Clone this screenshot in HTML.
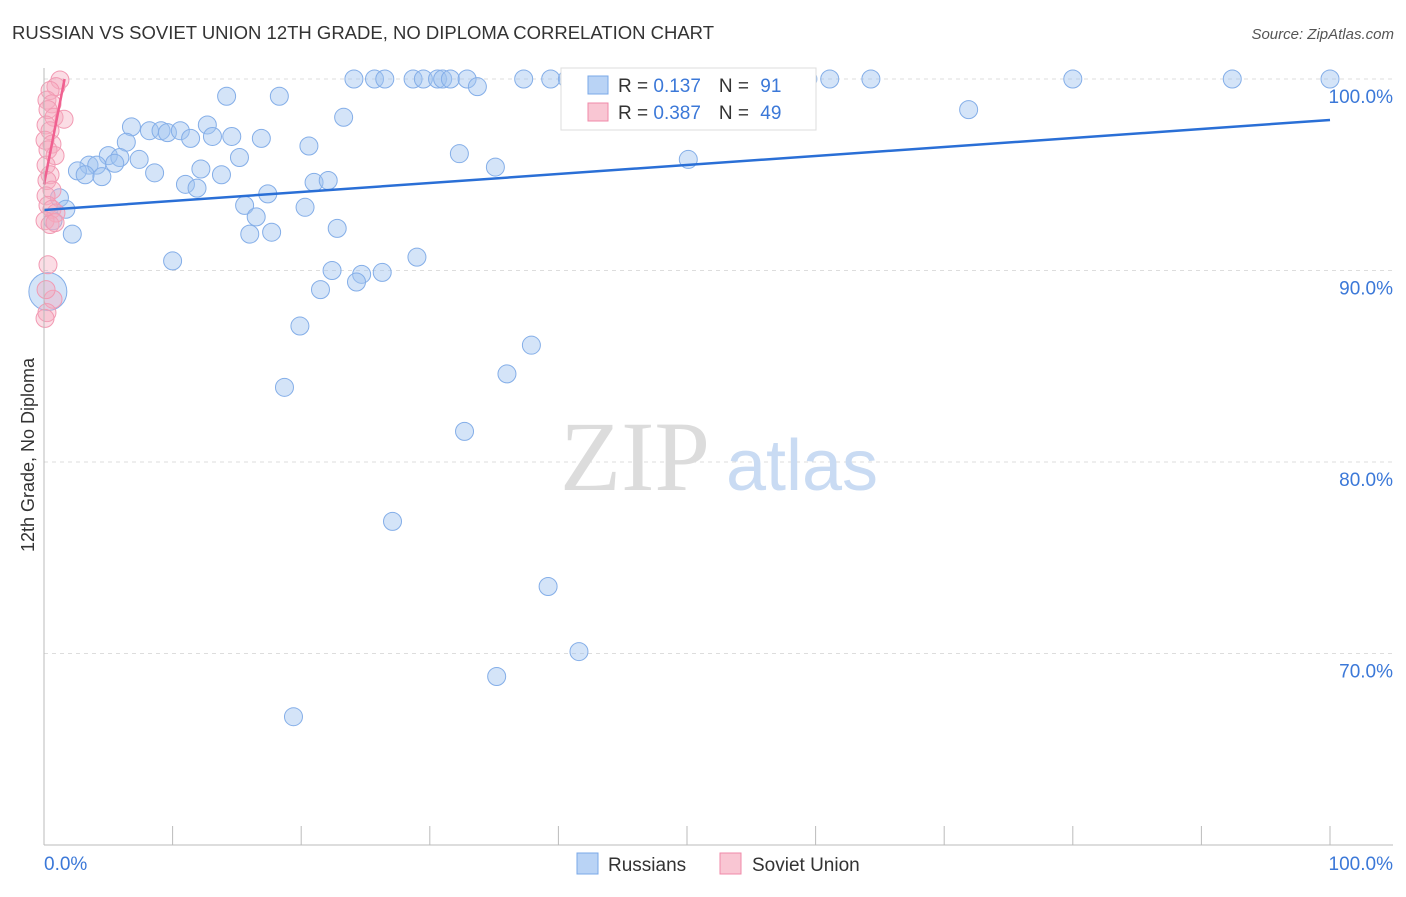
<!DOCTYPE html>
<html><head><meta charset="utf-8">
<style>
body{margin:0;background:#fff;font-family:"Liberation Sans",sans-serif;}
</style></head>
<body>
<svg id="chart" width="1406" height="892" viewBox="0 0 1406 892" xmlns="http://www.w3.org/2000/svg" font-family="Liberation Sans, sans-serif">
<text x="12" y="39" font-size="18" fill="#333" textLength="702" lengthAdjust="spacingAndGlyphs">RUSSIAN VS SOVIET UNION 12TH GRADE, NO DIPLOMA CORRELATION CHART</text>
<text x="1394" y="39" font-size="15" fill="#555" font-style="italic" text-anchor="end">Source: ZipAtlas.com</text>
<g id="grid"></g>
<g>
<text x="635" y="490" font-size="100" fill="#dcdcdc" style="font-family:'Liberation Serif',serif" text-anchor="middle">ZIP</text>
<text x="802" y="490" font-size="72" fill="#c9dbf3" text-anchor="middle">atlas</text>
</g>
<g id="pts"></g>
<g id="axes"></g>
<text x="34" y="455" font-size="18" fill="#333" text-anchor="middle" transform="rotate(-90 34 455)">12th Grade, No Diploma</text>
<g>
<rect x="561" y="68" width="255" height="62" fill="#fff" stroke="#ddd"/>
<rect x="588" y="76" width="20" height="18" fill="#b9d3f5" stroke="#7aa8e8"/>
<rect x="588" y="103" width="20" height="18" fill="#f9c6d3" stroke="#f08aa8"/>
<text x="618" y="92" font-size="19" fill="#333">R = <tspan fill="#3b78d8">0.137</tspan><tspan dx="18">N = </tspan><tspan fill="#3b78d8" dx="6">91</tspan></text>
<text x="618" y="119" font-size="19" fill="#333">R = <tspan fill="#3b78d8">0.387</tspan><tspan dx="18">N = </tspan><tspan fill="#3b78d8" dx="6">49</tspan></text>
</g>
<g>
<rect x="577" y="853" width="21" height="21" fill="#b9d3f5" stroke="#7aa8e8"/>
<text x="608" y="871" font-size="19" fill="#333">Russians</text>
<rect x="720" y="853" width="21" height="21" fill="#f9c6d3" stroke="#f08aa8"/>
<text x="752" y="871" font-size="19" fill="#333">Soviet Union</text>
</g>
</svg>
<script>
const blueX=[24.1,25.7,26.5,28.7,29.5,30.6,31.0,31.6,32.9,37.3,39.4,40.7,47.1,51.3,52.3,59.4,61.1,64.3,80.0,92.4,100,33.7,14.2,18.3,71.9,23.3,6.8,8.2,9.1,9.6,10.6,12.7,11.4,13.1,14.6,16.9,6.4,20.6,5.0,5.9,7.4,15.2,32.3,3.5,4.1,5.5,2.6,3.2,4.5,12.2,13.8,8.6,35.1,50.1,11.0,11.9,17.4,21.0,22.1,1.2,1.7,0.7,2.2,15.6,16.5,20.3,16.0,17.7,22.8,10.0,29.0,22.4,24.7,24.3,26.3,21.5,19.9,37.9,36.0,18.7,32.7,27.1,39.2,41.6,35.2,19.4];
const blueY=[100,100,100,100,100,100,100,100,100,100,100,100,100,100,100,100,100,100,100,100,100,99.6,99.1,99.1,98.4,98.0,97.5,97.3,97.3,97.2,97.3,97.6,96.9,97.0,97.0,96.9,96.7,96.5,96.0,95.9,95.8,95.9,96.1,95.5,95.5,95.6,95.2,95.0,94.9,95.3,95.0,95.1,95.4,95.8,94.5,94.3,94.0,94.6,94.7,93.8,93.2,92.6,91.9,93.4,92.8,93.3,91.9,92.0,92.2,90.5,90.7,90.0,89.8,89.4,89.9,89.0,87.1,86.1,84.6,83.9,81.6,76.9,73.5,70.1,68.8,66.7];
const bigBlueX=[0.3], bigBlueY=[88.9];
const pinkX=[1.24,0.93,0.47,0.23,0.62,0.31,0.78,1.56,0.16,0.47,0.08,0.62,0.31,0.86,0.16,0.47,0.23,0.62,0.16,0.31,0.62,0.93,0.08,0.47,0.86,0.31,0.7,0.16,0.23,0.08];
const pinkY=[99.95,99.6,99.4,98.9,98.7,98.4,98.0,97.9,97.6,97.3,96.8,96.6,96.3,96.0,95.5,95.0,94.7,94.2,93.9,93.4,93.2,93.0,92.6,92.4,92.5,90.3,88.5,89.0,87.8,87.5];
const blueTrend=[93.16,97.86];
const pinkTrend=[94.5,100];
const yTicks=[100,90,80,70];
const yTickLabels=["100.0%","90.0%","80.0%","70.0%"];
const xTicks=[0,10,20,30,40,50,60,70,80,90,100];

const NS="http://www.w3.org/2000/svg";
const sx=v=>44+v*12.86;
const sy=v=>79+(100-v)*19.15;
function mk(tag,attrs,parent){const e=document.createElementNS(NS,tag);for(const k in attrs)e.setAttribute(k,attrs[k]);parent.appendChild(e);return e;}
const grid=document.getElementById('grid'),axes=document.getElementById('axes'),pts=document.getElementById('pts');
yTicks.forEach((t,i)=>{
 const l=mk('line',{x1:44,x2:1393,y1:sy(t),y2:sy(t),stroke:'#ddd','stroke-dasharray':'4 4'},grid);
 
 
 const tx=mk('text',{x:1393,y:sy(t)+24,'font-size':19,fill:'#3b78d8','text-anchor':'end'},axes);
 tx.textContent=yTickLabels[i];
 
 
});
mk('line',{x1:44,x2:44,y1:68,y2:845,stroke:'#bbb'},axes);
mk('line',{x1:44,x2:1393,y1:845,y2:845,stroke:'#bbb'},axes);
xTicks.forEach(t=>{
 const l=mk('line',{x1:sx(t),x2:sx(t),y1:826,y2:845,stroke:'#bbb'},axes);
 
 
});
const x0=mk('text',{x:44,y:870,'font-size':19,fill:'#3b78d8'},axes);x0.textContent="0.0%";


const x1=mk('text',{x:1393,y:870,'font-size':19,fill:'#3b78d8','text-anchor':'end'},axes);x1.textContent="100.0%";



blueX.forEach((v,i)=>{
 const c=mk('circle',{cx:sx(v),cy:sy(blueY[i]),r:9,fill:'rgba(160,196,240,0.45)',stroke:'#84aee8','stroke-width':1},pts);
 
 
});
bigBlueX.forEach((v,i)=>{
 const c=mk('circle',{cx:sx(v),cy:sy(bigBlueY[i]),r:19,fill:'rgba(160,196,240,0.45)',stroke:'#84aee8'},pts);
 
 
});
pinkX.forEach((v,i)=>{
 const c=mk('circle',{cx:sx(v),cy:sy(pinkY[i]),r:9,fill:'rgba(244,170,190,0.4)',stroke:'#f29ab3'},pts);
 
 
});
const bl=mk('line',{x1:sx(0),y1:sy(blueTrend[0]),x2:sx(100),y2:sy(blueTrend[1]),stroke:'#2a6fd6','stroke-width':2.5},pts);


const pl=mk('line',{x1:sx(0),y1:sy(pinkTrend[0]),x2:sx(1.6),y2:sy(pinkTrend[1]),stroke:'#f06090','stroke-width':2.5},pts);


</script>
</body></html>
